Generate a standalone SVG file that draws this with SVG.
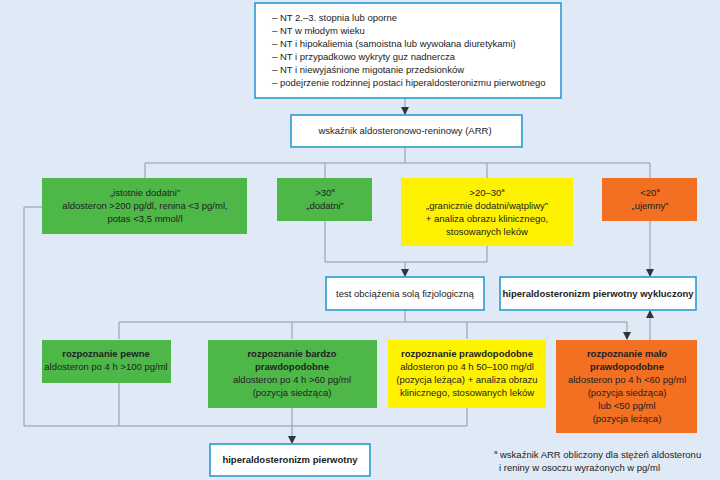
<svg xmlns="http://www.w3.org/2000/svg" width="720" height="480" viewBox="0 0 720 480">
<style>
text{font-family:"Liberation Sans",Arial,sans-serif;font-size:9.5px;fill:#222}
.c{text-anchor:middle}
.b{font-weight:bold}
.w{fill:#fff;stroke:#2a9ad2;stroke-width:1.6}
.g{fill:#4db848}.y{fill:#fff200}.o{fill:#f36f21}
.ln{fill:none;stroke:#8a99a8;stroke-width:1}
</style>
<defs><marker id="a" markerWidth="8" markerHeight="8" refX="7" refY="4" orient="auto" markerUnits="userSpaceOnUse"><path d="M0,0L8,4L0,8z" fill="#333"/></marker></defs>
<rect width="720" height="480" fill="#dfeaf6"/>
<g id="connectors" class="ln">
<path d="M405,98V114" marker-end="url(#a)"/>
<path d="M405,147V163M145,178V163H650V178M325,163V178M487,163V178"/>
<path d="M325,221V262H487V246M405,262V276" marker-end="url(#a)"/>
<path d="M650,221V276" marker-end="url(#a)"/>
<path d="M405,310V322"/>
<path d="M119,322H627"/>
<path d="M119,322V339M292,322V339M467,322V339M627,322V339" marker-end="url(#a)"/>
<path d="M650,340V311" marker-end="url(#a)"/>
<path d="M42,207H24V426H467V408M119,383V426"/>
<path d="M292,408V443" marker-end="url(#a)"/>
</g>
<g id="n-top"><rect class="w" x="255" y="3" width="306" height="95"/>
<text x="272" y="21">– NT 2.–3. stopnia lub oporne</text>
<text x="272" y="34">– NT w młodym wieku</text>
<text x="272" y="47">– NT i hipokaliemia (samoistna lub wywołana diuretykami)</text>
<text x="272" y="60">– NT i przypadkowo wykryty guz nadnercza</text>
<text x="272" y="73">– NT i niewyjaśnione migotanie przedsionków</text>
<text x="272" y="86">– podejrzenie rodzinnej postaci hiperaldosteronizmu pierwotnego</text></g>
<g id="n-arr"><rect class="w" x="291" y="115" width="231" height="32"/><text class="c" x="405" y="134">wskaźnik aldosteronowo-reninowy (ARR)</text></g>
<g id="n-g1"><rect class="g" x="42" y="178" width="205" height="56"/>
<text class="c" x="145" y="196">„istotnie dodatni”</text><text class="c" x="145" y="209">aldosteron &gt;200 pg/dl, renina &lt;3 pg/ml,</text><text class="c" x="145" y="222">potas &lt;3,5 mmol/l</text></g>
<g id="n-g2"><rect class="g" x="277" y="178" width="95" height="43"/>
<text class="c" x="325" y="196">&gt;30<tspan font-size="6" dy="-4">a</tspan></text><text class="c" x="325" y="209">„dodatni”</text></g>
<g id="n-y1"><rect class="y" x="401" y="178" width="172" height="68"/>
<text class="c" x="487" y="196">&gt;20–30<tspan font-size="6" dy="-4">a</tspan></text><text class="c" x="487" y="209">„granicznie dodatni/wątpliwy”</text><text class="c" x="487" y="222">+ analiza obrazu klinicznego,</text><text class="c" x="487" y="235">stosowanych leków</text></g>
<g id="n-o1"><rect class="o" x="602" y="178" width="95" height="43"/>
<text class="c" x="650" y="196">&lt;20<tspan font-size="6" dy="-4">a</tspan></text><text class="c" x="650" y="209">„ujemny”</text></g>
<g id="n-test"><rect class="w" x="326" y="277" width="158" height="33"/><text class="c" x="405" y="297">test obciążenia solą fizjologiczną</text></g>
<g id="n-excl"><rect class="w" x="500" y="277" width="196" height="33"/><text class="c b" x="598" y="297">hiperaldosteronizm pierwotny wykluczony</text></g>
<g id="n-r1"><rect class="g" x="42" y="340" width="129" height="43"/>
<text class="c b" x="106" y="357">rozpoznanie pewne</text><text class="c" x="106" y="370">aldosteron po 4 h &gt;100 pg/ml</text></g>
<g id="n-r2"><rect class="g" x="208" y="340" width="169" height="68"/>
<text class="c b" x="292" y="357">rozpoznanie bardzo</text><text class="c b" x="292" y="370">prawdopodobne</text><text class="c" x="292" y="383">aldosteron po 4 h &gt;60 pg/ml</text><text class="c" x="292" y="396">(pozycja siedząca)</text></g>
<g id="n-r3"><rect class="y" x="388" y="340" width="158" height="68"/>
<text class="c b" x="467" y="357">rozpoznanie prawdopodobne</text><text class="c" x="467" y="370">aldosteron po 4 h 50–100 mg/dl</text><text class="c" x="467" y="383">(pozycja leżąca) + analiza obrazu</text><text class="c" x="467" y="396">klinicznego, stosowanych leków</text></g>
<g id="n-r4"><rect class="o" x="556" y="340" width="141" height="93"/>
<text class="c b" x="627" y="357">rozpoznanie mało</text><text class="c b" x="627" y="370">prawdopodobne</text><text class="c" x="627" y="383">aldosteron po 4 h &lt;60 pg/ml</text><text class="c" x="627" y="396">(pozycja siedząca)</text><text class="c" x="627" y="409">lub &lt;50 pg/ml</text><text class="c" x="627" y="422">(pozycja leżąca)</text></g>
<g id="n-final"><rect class="w" x="210" y="444" width="160" height="32"/><text class="c b" x="290" y="463">hiperaldosteronizm  pierwotny</text></g>
<g id="note"><text x="494" y="458"><tspan font-size="6" dy="-4">a</tspan><tspan dy="4"> wskaźnik ARR obliczony dla stężeń aldosteronu</tspan></text><text x="499" y="471">i reniny w osoczu wyrażonych w pg/ml</text></g>
</svg>
